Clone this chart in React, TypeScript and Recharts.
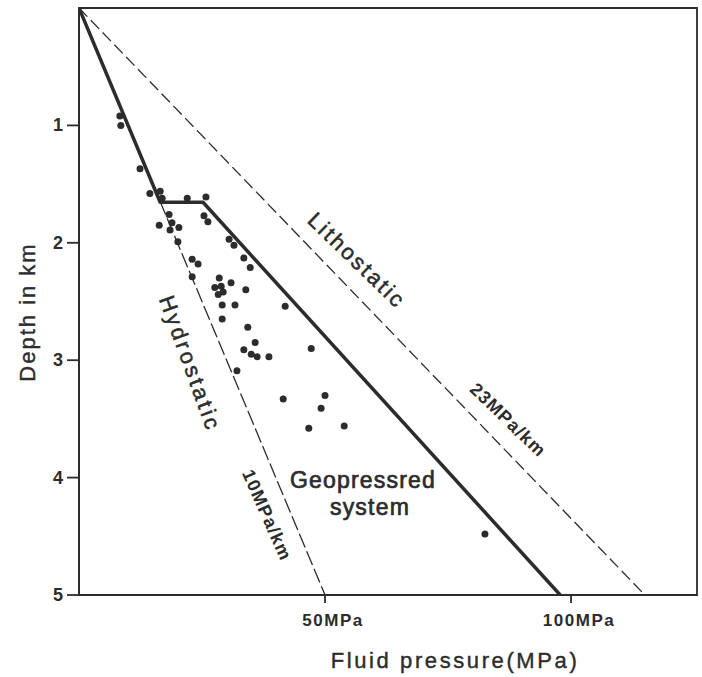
import React from 'react'
import {
  ComposedChart,
  Line,
  Scatter,
  XAxis,
  YAxis,
  ReferenceArea,
} from 'recharts'

// pressure (MPa) vs depth (km)
const hydroX = [0, 50]
const hydroY = [0, 5]
const lithoX = [0, 115]
const lithoY = [0, 5]
const geoX = [0, 16.5, 25.2, 97.8]
const geoY = [0, 1.655, 1.655, 5]

// measured fluid pressures
const wellX = [
  8.3, 8.5, 12.4, 14.4, 16.5, 16.9, 22.0, 25.8, 18.3, 25.4, 26.2, 16.3, 18.9, 20.3, 18.5, 20.1,
  30.5, 31.5, 33.5, 34.8, 23.0, 24.2, 23.0, 28.5, 30.9, 27.6, 28.9, 29.3, 28.3, 33.9, 29.1, 31.7,
  41.9, 29.1, 34.3, 35.8, 33.5, 35.0, 36.2, 38.6, 47.2, 32.1, 41.5, 50.0, 49.2, 46.7, 53.9, 82.5,
]
const wellY = [
  0.92, 1.0, 1.37, 1.58, 1.56, 1.62, 1.62, 1.61, 1.76, 1.77, 1.82, 1.85, 1.83, 1.87, 1.89, 1.99,
  1.97, 2.02, 2.13, 2.21, 2.14, 2.18, 2.29, 2.3, 2.34, 2.38, 2.37, 2.42, 2.44, 2.4, 2.53, 2.53,
  2.54, 2.65, 2.72, 2.85, 2.91, 2.95, 2.97, 2.97, 2.9, 3.09, 3.33, 3.3, 3.41, 3.58, 3.56, 4.48,
]

const xTicks = [50, 100]
const yTicks = [1, 2, 3, 4, 5]
const X_MAX = 125.6
const Y_MAX = 5

const toPts = (xs: number[], ys: number[]) => xs.map((x, i) => ({ x, y: ys[i] }))
const hydro = toPts(hydroX, hydroY)
const litho = toPts(lithoX, lithoY)
const geo = toPts(geoX, geoY)
const wells = toPts(wellX, wellY)

const W = 702
const H = 677
const M = { top: 8, right: 5, bottom: 0, left: 0 }
const Y_W = 79
const X_H = 82
const plotL = M.left + Y_W
const plotT = M.top
const plotW = W - plotL - M.right
const plotH = H - M.top - M.bottom - X_H
const px = (v: number) => plotL + (v / X_MAX) * plotW
const py = (v: number) => plotT + (v / Y_MAX) * plotH

const INK = '#2c2c2c'
const FONT = '"Liberation Sans", Arial, Helvetica, sans-serif'

// annotation positions in data units
const notes = [
  { text: 'Lithostatic', x: 56.5, y: 2.15, angle: 44, size: 22, weight: 400, ls: 2.5 },
  { text: '23MPa/km', x: 87.2, y: 3.51, angle: 44, size: 18, weight: 700, ls: 1.2 },
  { text: 'Hydrostatic', x: 22.6, y: 3.03, angle: 70, size: 22, weight: 400, ls: 3 },
  { text: '10MPa/km', x: 38.2, y: 4.32, angle: 66, size: 18, weight: 700, ls: 1.2 },
]

const XTick = (props: any) => {
  const { x, y, payload } = props
  return (
    <text x={x + 8} y={y + 21} textAnchor="middle" fontSize={17} fontWeight={700} fill={INK} fontFamily={FONT} letterSpacing={1.5}>
      {payload.value}MPa
    </text>
  )
}

const YTick = (props: any) => {
  const { x, y, payload } = props
  return (
    <text x={x - 2} y={y} dy={6} textAnchor="end" fontSize={18} fontWeight={700} fill={INK} fontFamily={FONT}>
      {payload.value}
    </text>
  )
}

const Dot = (props: any) => <circle cx={props.cx} cy={props.cy} r={3.5} fill={INK} />

export default function App() {
  return (
    <div style={{ position: 'absolute', left: 0, top: 0, width: W, height: H, background: '#fff' }}>
      <ComposedChart width={W} height={H} margin={M}>
        <XAxis
          type="number"
          dataKey="x"
          domain={[0, X_MAX]}
          ticks={xTicks}
          tick={<XTick />}
          tickSize={8}
          height={X_H}
          stroke={INK}
          strokeWidth={1.8}
          allowDataOverflow
        />
        <YAxis
          type="number"
          dataKey="y"
          domain={[0, Y_MAX]}
          reversed
          ticks={yTicks}
          tick={<YTick />}
          tickSize={12}
          width={Y_W}
          stroke={INK}
          strokeWidth={1.8}
          allowDataOverflow
        />
        <ReferenceArea x1={0} x2={X_MAX} y1={0} y2={Y_MAX} fill="none" stroke={INK} strokeWidth={1.8} />
        <Line data={litho} dataKey="y" stroke={INK} strokeWidth={1.3} strokeDasharray="12 5" dot={false} isAnimationActive={false} />
        <Line data={hydro} dataKey="y" stroke={INK} strokeWidth={1.3} strokeDasharray="15 4" dot={false} isAnimationActive={false} />
        <Line data={geo} dataKey="y" type="linear" stroke={INK} strokeWidth={3.5} dot={false} isAnimationActive={false} strokeLinejoin="round" />
        <Scatter data={wells} dataKey="y" shape={<Dot />} isAnimationActive={false} />
        <g fontFamily={FONT} fill={INK}>
          {notes.map((n) => (
            <text
              key={n.text}
              x={px(n.x)}
              y={py(n.y)}
              textAnchor="middle"
              dominantBaseline="central"
              fontSize={n.size}
              fontWeight={n.weight}
              letterSpacing={n.ls}
              stroke={INK}
              strokeWidth={n.weight === 700 ? 0 : 0.5}
              transform={`rotate(${n.angle}, ${px(n.x)}, ${py(n.y)})`}
            >
              {n.text}
            </text>
          ))}
          <text x={363} y={488} textAnchor="middle" fontSize={23} letterSpacing={1.2} stroke={INK} strokeWidth={0.7}>
            Geopressred
          </text>
          <text x={370} y={515} textAnchor="middle" fontSize={23} letterSpacing={1.2} stroke={INK} strokeWidth={0.7}>
            system
          </text>
          <text x={455} y={668} textAnchor="middle" fontSize={22} letterSpacing={2.6} stroke={INK} strokeWidth={0.4}>
            Fluid pressure(MPa)
          </text>
          <text
            x={27}
            y={312}
            textAnchor="middle"
            dominantBaseline="central"
            fontSize={22}
            letterSpacing={2}
            stroke={INK}
            strokeWidth={0.4}
            transform="rotate(-90, 27, 312)"
          >
            Depth in km
          </text>
        </g>
      </ComposedChart>
    </div>
  )
}
